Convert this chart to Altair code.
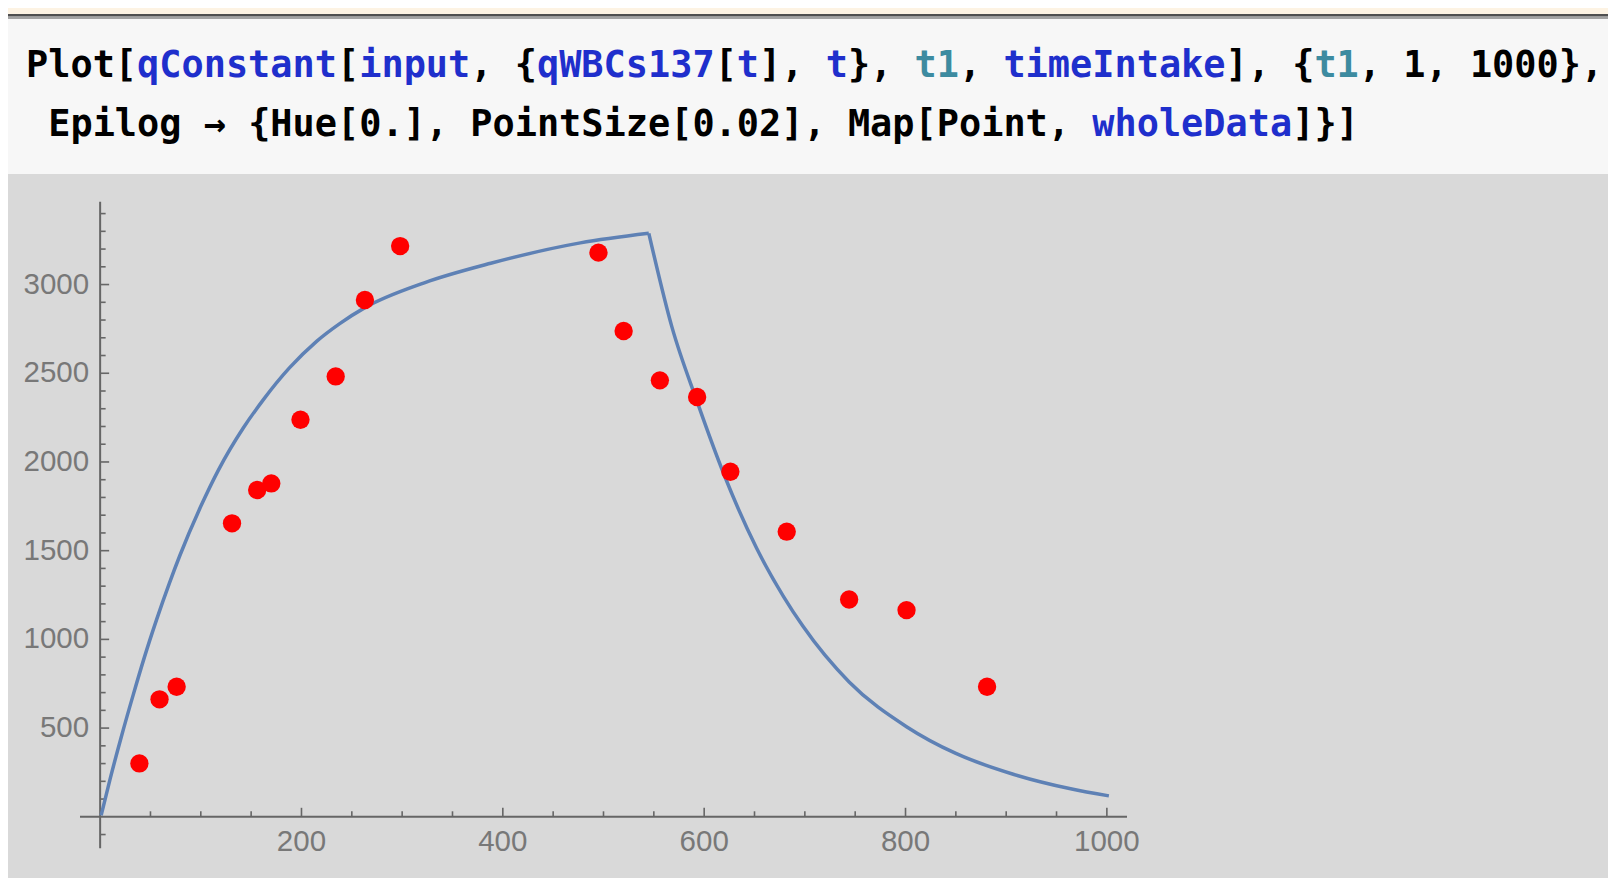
import altair as alt
import pandas as pd

# ---------------- data ----------------
data_t = [39, 59, 76, 131, 156, 170, 199, 234, 263, 298, 495, 520, 556, 593, 626, 682, 744, 801, 881]
data_q = [301, 662, 733, 1654, 1842, 1879, 2238, 2482, 2913, 3217, 3180, 2738, 2460, 2366, 1945, 1607, 1225, 1165, 733]

rise_t = [1, 10, 21, 33, 44, 56, 69, 79, 100, 118, 142, 162, 188, 215, 238, 263, 322, 388, 477, 545]
rise_q = [8, 215, 450, 690, 900, 1110, 1320, 1470, 1750, 1960, 2190, 2350, 2530, 2680, 2780, 2870, 3010, 3120, 3235, 3289]

decay_t = [545, 568, 593, 620, 652, 679, 698, 744, 801, 850, 907, 964, 1002]
decay_q = [3289, 2760, 2340, 1925, 1515, 1240, 1075, 760, 508, 357, 240, 158, 118]

x_major = [200, 400, 600, 800, 1000]
x_minor = [50, 100, 150, 250, 300, 350, 450, 500, 550, 650, 700, 750, 850, 900, 950]
y_major = [500, 1000, 1500, 2000, 2500, 3000]
y_minor = [v for v in range(-100, 3500, 100) if v % 500 != 0]

code_line1 = [("Plot[", "k"), ("qConstant", "b"), ("[", "k"), ("input", "b"), (", {", "k"),
              ("qWBCs137", "b"), ("[", "k"), ("t", "b"), ("], ", "k"), ("t", "b"), ("}, ", "k"),
              ("t1", "t"), (", ", "k"), ("timeIntake", "b"), ("], {", "k"), ("t1", "t"),
              (", 1, 1000},", "k")]
code_line2 = [(" Epilog \u2192 {Hue[0.], PointSize[0.02], Map[Point, ", "k"), ("wholeData", "b"), ("]}]", "k")]

# ---------------- geometry / style ----------------
X_DOM = [-20, 1020]
Y_DOM = [-177, 3467]
W, H = 1047, 646.5
PAD_L, PAD_T = 72, 193.7
PAD_R = 1600 - PAD_L - W
PAD_B = 870 - PAD_T - H

AXIS_COL = "#666666"
LABEL_COL = "#787878"
CURVE_COL = "#5E81B5"
COLORS = {"k": "#000000", "b": "#1f2fcc", "t": "#3d8ba0"}
CODE_SIZE = 36.9
CHAR_W = CODE_SIZE * 0.602
LABEL_FONT = "Liberation Sans"
LABEL_SIZE = 29.5

xs = alt.Scale(domain=X_DOM, nice=False, zero=False)
ys = alt.Scale(domain=Y_DOM, nice=False, zero=False)


def X(f):
    return alt.X(f, scale=xs, axis=None)


def Y(f):
    return alt.Y(f, scale=ys, axis=None)


# ---------------- axes (Mathematica-style, crossing at the origin) ----------------
xaxis_line = alt.Chart(pd.DataFrame({"a": [X_DOM[0]], "b": [X_DOM[1]], "z": [0]})).mark_rule(
    color=AXIS_COL, strokeWidth=2).encode(x=X("a:Q"), x2="b:Q", y=Y("z:Q"))
yaxis_line = alt.Chart(pd.DataFrame({"a": [Y_DOM[0]], "b": [Y_DOM[1]], "z": [0]})).mark_rule(
    color=AXIS_COL, strokeWidth=2).encode(y=Y("a:Q"), y2="b:Q", x=X("z:Q"))


def xticks(vals, length):
    df = pd.DataFrame({"v": vals, "z": [0] * len(vals)})
    return alt.Chart(df).mark_tick(orient="vertical", size=length, thickness=1.6,
                                   color=AXIS_COL, yOffset=-length / 2, opacity=1).encode(
        x=X("v:Q"), y=Y("z:Q"))


def yticks(vals, length):
    df = pd.DataFrame({"v": vals, "z": [0] * len(vals)})
    return alt.Chart(df).mark_tick(orient="horizontal", size=length, thickness=1.6,
                                   color=AXIS_COL, xOffset=length / 2, opacity=1).encode(
        y=Y("v:Q"), x=X("z:Q"))


xlab_df = pd.DataFrame({"v": x_major, "z": [0] * len(x_major), "s": [str(v) for v in x_major]})
xlabels = alt.Chart(xlab_df).mark_text(
    baseline="top", align="center", dy=11, font=LABEL_FONT, fontSize=LABEL_SIZE, color=LABEL_COL
).encode(x=X("v:Q"), y=Y("z:Q"), text="s:N")

ylab_df = pd.DataFrame({"v": y_major, "z": [0] * len(y_major), "s": [str(v) for v in y_major]})
ylabels = alt.Chart(ylab_df).mark_text(
    baseline="middle", align="right", dx=-11, font=LABEL_FONT, fontSize=LABEL_SIZE, color=LABEL_COL
).encode(x=X("z:Q"), y=Y("v:Q"), text="s:N")

# ---------------- curve and data points ----------------
curve_df = pd.DataFrame({
    "t": rise_t + decay_t,
    "q": rise_q + decay_q,
    "seg": ["rise"] * len(rise_t) + ["decay"] * len(decay_t),
})
curve = alt.Chart(curve_df).mark_line(
    interpolate="monotone", color=CURVE_COL, strokeWidth=3.5
).encode(x=X("t:Q"), y=Y("q:Q"), detail="seg:N")

pts_df = pd.DataFrame({"t": data_t, "q": data_q})
points = alt.Chart(pts_df).mark_circle(color="#ff0000", size=336, opacity=1).encode(
    x=X("t:Q"), y=Y("q:Q"))

# ---------------- notebook input cell (header) ----------------
one = pd.DataFrame({"a": [0]})


def band(y0, y1, color):
    return alt.Chart(one).mark_rect(color=color, opacity=1).encode(
        x=alt.value(-PAD_L), x2=alt.value(1600 - PAD_L),
        y=alt.value(y0 - 8 - PAD_T), y2=alt.value(y1 - 8 - PAD_T))


header = [
    band(8, 14, "#fdf3e3"),
    band(14, 16.5, "#4f4f4f"),
    band(16.5, 19, "#a3a3a3"),
    band(19, 174, "#f7f7f7"),
]


def runs(segments):
    """split a code line into runs of same-colour, non-space characters with their column"""
    out = []
    col = 0
    cur, cur_key, cur_col = "", None, 0
    for txt, key in segments:
        for ch in txt:
            if ch == " " or key != cur_key:
                if cur:
                    out.append((cur, cur_key, cur_col))
                cur, cur_key, cur_col = "", key, col
            if ch != " ":
                if not cur:
                    cur_col = col
                cur += ch
            col += 1
    if cur:
        out.append((cur, cur_key, cur_col))
    return out


texts = []
for segs, base_y in [(code_line1, 77.3), (code_line2, 136)]:
    for s, key, c in runs(segs):
        texts.append(
            alt.Chart(one).mark_text(
                align="left", baseline="alphabetic", font="DejaVu Sans Mono",
                fontWeight="bold", fontSize=CODE_SIZE, color=COLORS[key],
            ).encode(x=alt.value(26 + c * CHAR_W - 8 - PAD_L),
                     y=alt.value(base_y - 8 - PAD_T), text=alt.value(s))
        )

chart = alt.layer(
    *header, *texts,
    xaxis_line, yaxis_line,
    xticks(x_major, 9), xticks(x_minor, 5.5),
    yticks(y_major, 9), yticks(y_minor, 5.5),
    xlabels, ylabels,
    curve, points,
).properties(
    width=W, height=H,
    padding={"left": PAD_L, "top": PAD_T, "right": PAD_R, "bottom": PAD_B},
    autosize=alt.AutoSizeParams(type="none"),
    background="#d9d9d9",
).configure_view(stroke=None)

chart.save("out.html", embed_options={"renderer": "svg", "actions": False})
